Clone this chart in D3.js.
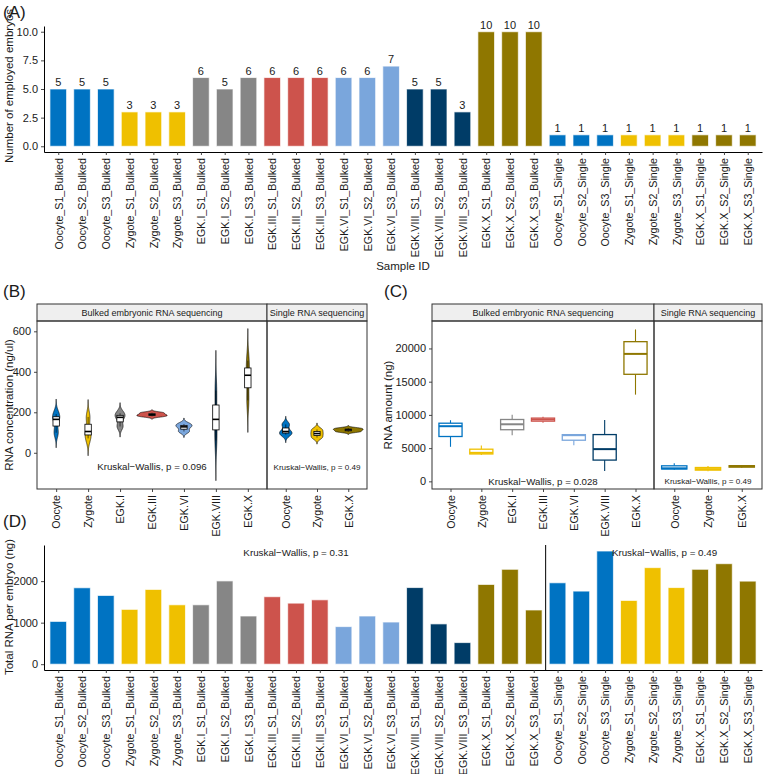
<!DOCTYPE html>
<html><head><meta charset="utf-8">
<script src="https://cdn.jsdelivr.net/npm/d3@7/dist/d3.min.js"></script>
<style>body{margin:0;background:#fff} svg text{font-family:"Liberation Sans",Arial,sans-serif;fill:#1a1a1a}</style>
</head><body><svg id="c" width="764" height="774"></svg>
<script>
// ---------- DATA ----------
const samples = ["Oocyte_S1_Bulked","Oocyte_S2_Bulked","Oocyte_S3_Bulked","Zygote_S1_Bulked","Zygote_S2_Bulked","Zygote_S3_Bulked",
 "EGK.I_S1_Bulked","EGK.I_S2_Bulked","EGK.I_S3_Bulked","EGK.III_S1_Bulked","EGK.III_S2_Bulked","EGK.III_S3_Bulked",
 "EGK.VI_S1_Bulked","EGK.VI_S2_Bulked","EGK.VI_S3_Bulked","EGK.VIII_S1_Bulked","EGK.VIII_S2_Bulked","EGK.VIII_S3_Bulked",
 "EGK.X_S1_Bulked","EGK.X_S2_Bulked","EGK.X_S3_Bulked","Oocyte_S1_Single","Oocyte_S2_Single","Oocyte_S3_Single",
 "Zygote_S1_Single","Zygote_S2_Single","Zygote_S3_Single","EGK.X_S1_Single","EGK.X_S2_Single","EGK.X_S3_Single"];
const sampleStage = ["Oocyte","Oocyte","Oocyte","Zygote","Zygote","Zygote","EGK.I","EGK.I","EGK.I","EGK.III","EGK.III","EGK.III",
 "EGK.VI","EGK.VI","EGK.VI","EGK.VIII","EGK.VIII","EGK.VIII","EGK.X","EGK.X","EGK.X","Oocyte","Oocyte","Oocyte",
 "Zygote","Zygote","Zygote","EGK.X","EGK.X","EGK.X"];
const embryoCounts = [5,5,5,3,3,3,6,5,6,6,6,6,6,6,7,5,5,3,10,10,10,1,1,1,1,1,1,1,1,1];
const rnaPerEmbryo = [1030,1840,1655,1320,1800,1430,1430,2005,1160,1625,1470,1550,905,1160,1015,1845,970,520,1920,2285,1305,1960,1760,2725,1535,2325,1845,2285,2420,2000];
const stageColors = {"Oocyte":"#0073C2","Zygote":"#EFC000","EGK.I":"#868686","EGK.III":"#CD534C","EGK.VI":"#7AA6DC","EGK.VIII":"#003C67","EGK.X":"#8F7700"};
const bulkStages = ["Oocyte","Zygote","EGK.I","EGK.III","EGK.VI","EGK.VIII","EGK.X"];
const singleStages = ["Oocyte","Zygote","EGK.X"];
const stripLabels = ["Bulked embryonic RNA sequencing","Single RNA sequencing"];
// Panel B: RNA concentration replicates (ng/ul)
const concBulk = [[99,165,191],[71,105,177],[130,175,195],[180,188,198],[105,128,142],[61,165,307],[259,383,455]];
const concSingle = [[90,105,140],[75,95,115],[104,113,121]];
// Panel C: RNA amount box stats [min, q1, median, q3, max] (ng)
const amountBulk = [[5200,6750,8300,8750,9200],[3950,4120,4290,4840,5400],[6950,7770,8590,9310,10040],[8820,9060,9310,9520,9740],[5420,6190,6950,7030,7100],[1560,3200,4850,7040,9230],[13050,16110,19180,21020,22860]];
const amountSingle = [[1760,1860,1960,2340,2720],[1535,1690,1845,2085,2325],[2000,2140,2285,2355,2420]];
const pB = ["Kruskal\u2212Wallis, p = 0.096","Kruskal\u2212Wallis, p = 0.49"];
const pC = ["Kruskal\u2212Wallis, p = 0.028","Kruskal\u2212Wallis, p = 0.49"];
const pD = ["Kruskal\u2212Wallis, p = 0.31","Kruskal\u2212Wallis, p = 0.49"];
const ticksA = [0,2.5,5,7.5,10];
const ticksB = [0,200,400,600];
const ticksC = [0,5000,10000,15000,20000];
const ticksD = [0,1000,2000];

// ---------- HELPERS ----------
const svg = d3.select("#c");
const intFmt = d3.format("d");
function styleAxis(g){
  g.selectAll(".domain").attr("stroke","#000").attr("stroke-width",1);
  g.selectAll(".tick line").attr("stroke","#333").attr("stroke-width",0.9);
  g.selectAll("text").style("font-size","11px").attr("fill","#1a1a1a");
}
function rotLabels(g, tick){
  g.selectAll(".tick text").attr("transform","rotate(-90)").attr("x",-(tick+3)).attr("y",0).attr("dy","0.35em").style("text-anchor","end").style("font-size","10.7px");
}
function panelLetter(t,x,y){ svg.append("text").attr("x",x).attr("y",y).style("font-size","17px").text(t); }
function yTitle(t,x,cy){ svg.append("text").attr("transform",`translate(${x},${cy}) rotate(-90)`).attr("text-anchor","middle").attr("dy","0.35em").style("font-size","11.5px").text(t); }

// ---------- PANEL A ----------
const xA = d3.scalePoint().domain(samples).range([44,762]).padding(0.6);
const bwA = xA.step()*0.7;
const yA = d3.scaleLinear().domain([-0.5,10.5]).range([152,26]);
panelLetter("(A)",3,18);
svg.append("g").selectAll("rect").data(samples).join("rect")
  .attr("x",(d)=>xA(d)-bwA/2).attr("width",bwA)
  .attr("y",(d,i)=>yA(embryoCounts[i])).attr("height",(d,i)=>yA(0)-yA(embryoCounts[i]))
  .attr("fill",(d,i)=>stageColors[sampleStage[i]]).attr("stroke","#fff").attr("stroke-opacity",0.7).attr("stroke-width",1);
svg.append("g").selectAll("text").data(samples).join("text")
  .attr("x",d=>xA(d)).attr("y",(d,i)=>yA(embryoCounts[i])-3).attr("text-anchor","middle").style("font-size","11px")
  .text((d,i)=>embryoCounts[i]);
let g = svg.append("g").attr("transform","translate(44,0)").call(d3.axisLeft(yA).tickValues(ticksA).tickFormat(d3.format(".1f")).tickSize(3).tickSizeOuter(0));
styleAxis(g);
g = svg.append("g").attr("transform","translate(0,152)").call(d3.axisBottom(xA).tickSize(3).tickSizeOuter(0));
styleAxis(g); rotLabels(g,3);
yTitle("Number of employed embryos",9,86);
svg.append("text").attr("x",403).attr("y",270).attr("text-anchor","middle").style("font-size","11.5px").text("Sample ID");

// ---------- FACET PANELS (B, C) ----------
function facetFrame(o){
  const facets = [[o.left,o.div],[o.div,o.right]];
  facets.forEach((f,k)=>{
    svg.append("rect").attr("x",f[0]).attr("y",o.stripTop).attr("width",f[1]-f[0]).attr("height",o.top-o.stripTop)
      .attr("fill","#EFEFEF").attr("stroke","#333").attr("stroke-width",1);
    svg.append("text").attr("x",(f[0]+f[1])/2).attr("y",(o.stripTop+o.top)/2).attr("dy","0.35em").attr("text-anchor","middle")
      .style("font-size","9px").text(stripLabels[k]);
  });
  const xs = [
    d3.scalePoint().domain(bulkStages).range([o.left,o.div]).padding(0.6),
    d3.scalePoint().domain(singleStages).range([o.div,o.right]).padding(0.6)
  ];
  let ga = svg.append("g").attr("transform",`translate(${o.left},0)`).call(d3.axisLeft(o.y).tickValues(o.ticks).tickFormat(intFmt).tickSize(3).tickSizeOuter(0));
  styleAxis(ga); ga.select(".domain").remove();
  xs.forEach(xs_=>{
    let gb = svg.append("g").attr("transform",`translate(0,${o.bottom})`).call(d3.axisBottom(xs_).tickSize(3).tickSizeOuter(0));
    styleAxis(gb); gb.select(".domain").remove(); rotLabels(gb,3);
  });
  return xs;
}
function facetBorders(o){
  [[o.left,o.div],[o.div,o.right]].forEach(f=>{
    svg.append("rect").attr("x",f[0]).attr("y",o.top).attr("width",f[1]-f[0]).attr("height",o.bottom-o.top)
      .attr("fill","none").attr("stroke","#333").attr("stroke-width",1);
  });
}

// ---------- PANEL B (violins) ----------
function nrd0(arr){
  const s = arr.slice().sort(d3.ascending);
  const sd = d3.deviation(s);
  const iqr = d3.quantile(s,0.75)-d3.quantile(s,0.25);
  const lo = Math.min(sd, iqr/1.34);
  return 0.9*lo*Math.pow(s.length,-0.2);
}
function kde(arr){
  const bw = nrd0(arr);
  const lo = d3.min(arr)-3*bw, hi = d3.max(arr)+3*bw, n = 256;
  return d3.range(n).map(i=>{
    const v = lo+(hi-lo)*i/(n-1);
    const d = d3.mean(arr, a=>Math.exp(-0.5*((v-a)/bw)**2)/(bw*Math.sqrt(2*Math.PI)));
    return {v,d};
  });
}
const oB = {left:37,div:267,right:367,stripTop:304,top:321,bottom:489};
oB.y = d3.scaleLinear().domain([-179,651]).range([oB.bottom,oB.top]); oB.ticks = ticksB;
panelLetter("(B)",3,297);
const xsB = facetFrame(oB);
[[bulkStages,concBulk,xsB[0]],[singleStages,concSingle,xsB[1]]].forEach(([stages,vals,xs])=>{
  const dens = vals.map(kde);
  const maxD = d3.max(dens, ds=>d3.max(ds,p=>p.d));
  const half = xs.step()*0.95/2;
  stages.forEach((st,i)=>{
    const cx = xs(st);
    const area = d3.area().y(p=>oB.y(p.v)).x0(p=>cx-half*p.d/maxD).x1(p=>cx+half*p.d/maxD);
    svg.append("path").attr("d",area(dens[i])).attr("fill",stageColors[st]).attr("stroke","#000").attr("stroke-width",0.6);
    const s = vals[i].slice().sort(d3.ascending);
    const q1=d3.quantile(s,0.25), md=d3.quantile(s,0.5), q3=d3.quantile(s,0.75);
    const bw = xs.step()*0.2;
    svg.append("line").attr("x1",cx).attr("x2",cx).attr("y1",oB.y(s[0])).attr("y2",oB.y(s[s.length-1])).attr("stroke","#000").attr("stroke-width",0.6);
    svg.append("rect").attr("x",cx-bw/2).attr("width",bw).attr("y",oB.y(q3)).attr("height",oB.y(q1)-oB.y(q3))
      .attr("fill","#fff").attr("stroke","#000").attr("stroke-width",0.8);
    svg.append("line").attr("x1",cx-bw/2).attr("x2",cx+bw/2).attr("y1",oB.y(md)).attr("y2",oB.y(md)).attr("stroke","#000").attr("stroke-width",1.6);
  });
});
facetBorders(oB);
svg.append("text").attr("x",xsB[0]("EGK.III")).attr("y",oB.y(-69)).attr("dy","0.35em").attr("text-anchor","middle").style("font-size","9.7px").text(pB[0]);
svg.append("text").attr("x",xsB[1]("Zygote")).attr("y",oB.y(-69)).attr("dy","0.35em").attr("text-anchor","middle").style("font-size","8.1px").text(pB[1]);
yTitle("RNA concentration (ng/ul)",9,405);

// ---------- PANEL C (boxplots) ----------
const oC = {left:432,div:654,right:762,stripTop:304,top:321,bottom:489};
oC.y = d3.scaleLinear().domain([-1150,24130]).range([oC.bottom,oC.top]); oC.ticks = ticksC;
panelLetter("(C)",384,297);
const xsC = facetFrame(oC);
[[bulkStages,amountBulk,xsC[0]],[singleStages,amountSingle,xsC[1]]].forEach(([stages,stats,xs])=>{
  const bw = xs.step()*0.75;
  stages.forEach((st,i)=>{
    const cx = xs(st), s = stats[i], c = stageColors[st];
    svg.append("line").attr("x1",cx).attr("x2",cx).attr("y1",oC.y(s[0])).attr("y2",oC.y(s[1])).attr("stroke",c).attr("stroke-width",1.1);
    svg.append("line").attr("x1",cx).attr("x2",cx).attr("y1",oC.y(s[3])).attr("y2",oC.y(s[4])).attr("stroke",c).attr("stroke-width",1.1);
    svg.append("rect").attr("x",cx-bw/2).attr("width",bw).attr("y",oC.y(s[3])).attr("height",oC.y(s[1])-oC.y(s[3]))
      .attr("fill","#fff").attr("stroke",c).attr("stroke-width",1.3);
    svg.append("line").attr("x1",cx-bw/2).attr("x2",cx+bw/2).attr("y1",oC.y(s[2])).attr("y2",oC.y(s[2])).attr("stroke",c).attr("stroke-width",2);
  });
});
facetBorders(oC);
svg.append("text").attr("x",xsC[0]("EGK.III")).attr("y",oC.y(0)).attr("dy","0.35em").attr("text-anchor","middle").style("font-size","9.7px").text(pC[0]);
svg.append("text").attr("x",xsC[1]("Zygote")).attr("y",oC.y(0)).attr("dy","0.35em").attr("text-anchor","middle").style("font-size","8.1px").text(pC[1]);
yTitle("RNA amount (ng)",388,405);

// ---------- PANEL D ----------
const yD = d3.scaleLinear().domain([-140,2870]).range([670,545]);
panelLetter("(D)",3,527);
svg.append("g").selectAll("rect").data(samples).join("rect")
  .attr("x",d=>xA(d)-bwA/2).attr("width",bwA)
  .attr("y",(d,i)=>yD(rnaPerEmbryo[i])).attr("height",(d,i)=>yD(0)-yD(rnaPerEmbryo[i]))
  .attr("fill",(d,i)=>stageColors[sampleStage[i]]).attr("stroke","#fff").attr("stroke-opacity",0.7).attr("stroke-width",1);
const divX = (xA(samples[20])+xA(samples[21]))/2;
svg.append("line").attr("x1",divX).attr("x2",divX).attr("y1",yD.range()[1]).attr("y2",yD.range()[0]).attr("stroke","#000").attr("stroke-width",1);
g = svg.append("g").attr("transform","translate(44,0)").call(d3.axisLeft(yD).tickValues(ticksD).tickFormat(intFmt).tickSize(3).tickSizeOuter(0));
styleAxis(g);
g = svg.append("g").attr("transform","translate(0,670)").call(d3.axisBottom(xA).tickSize(3).tickSizeOuter(0));
styleAxis(g); rotLabels(g,3);
svg.append("text").attr("x",xA(samples[10])).attr("y",yD(2690)).attr("dy","0.35em").attr("text-anchor","middle").style("font-size","9.8px").text(pD[0]);
svg.append("text").attr("x",(xA(samples[25])+xA(samples[26]))/2).attr("y",yD(2690)).attr("dy","0.35em").attr("text-anchor","middle").style("font-size","9.8px").text(pD[1]);
yTitle("Total RNA per embryo (ng)",9,607);
</script></body></html>
